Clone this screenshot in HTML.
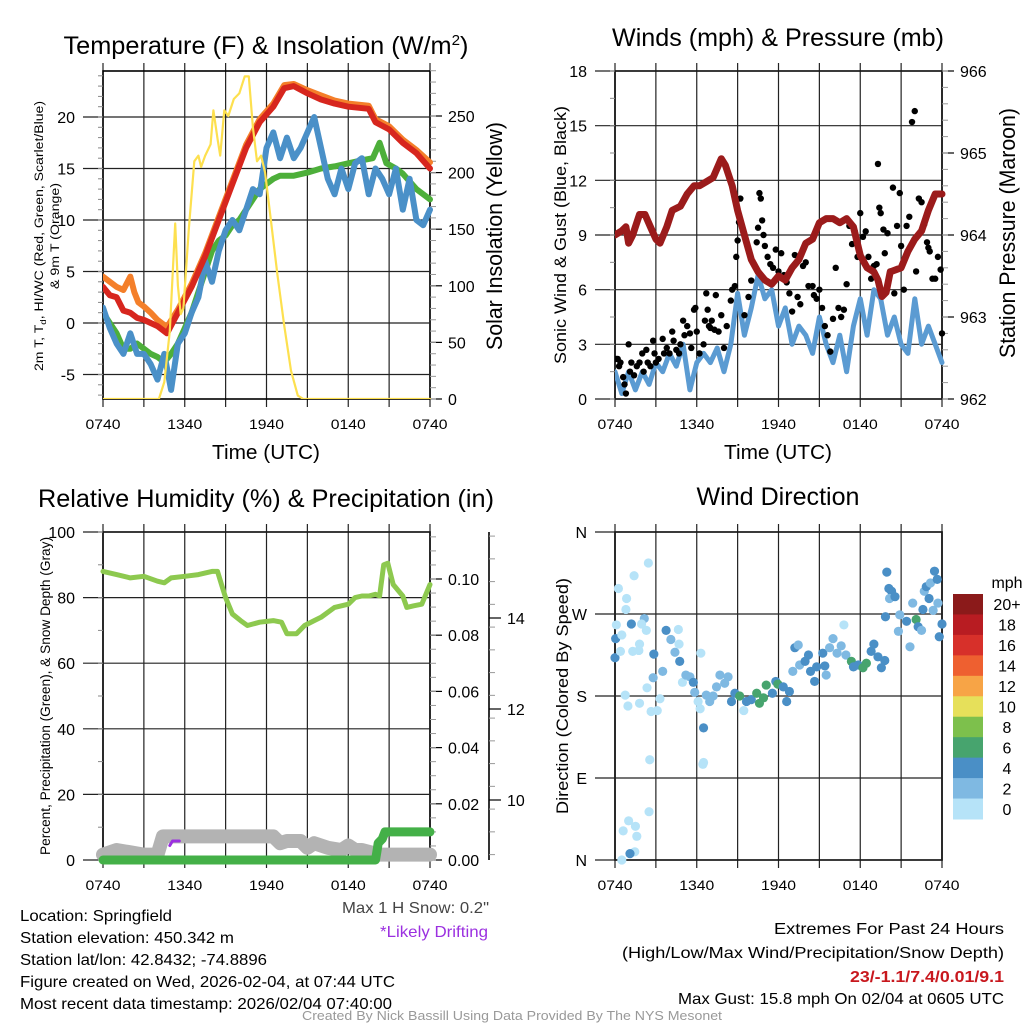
<!DOCTYPE html>
<html><head><meta charset="utf-8"><style>
html,body{margin:0;padding:0;background:#fff;}
svg{display:block;font-family:"Liberation Sans",sans-serif;}
</style></head><body>
<svg id="c" width="1024" height="1024" viewBox="0 0 1024 1024" xmlns="http://www.w3.org/2000/svg"></svg>
<script>
// ---------- DATA ----------
var timeTicks = ["0740","1340","1940","0140","0740"];
var tempTicks = [-5,0,5,10,15,20];
var solarTicks = [0,50,100,150,200,250];
var windTicks = [0,3,6,9,12,15,18];
var presTicks = [962,963,964,965,966];
var rhTicks = [0,20,40,60,80,100];
var precipTicks = [0.00,0.02,0.04,0.06,0.08,0.10];
var snowTicks = [10,12,14];
var dirLabels = ["N","E","S","W","N"];
var speedBins = ["0","2","4","6","8","10","12","14","16","18","20+"];
var binColors = ["#b6e3f8","#7fb9e2","#4a8fc6","#47a46e","#7dc04c","#e6e05a","#f7a446","#ee6030","#d7302a","#b81c22","#8b1a1a"];

var temp2m = [[0,3.5],[0.5,2.7],[1,2.5],[1.5,1.2],[2,1],[2.5,0.5],[3,0.3],[3.5,0],[4,-0.3],[4.7,-1],[5.5,1],[6.5,3.5],[7.5,6.5],[8.5,10],[9.5,13.5],[10.5,17],[11.5,19.5],[12.5,21],[13.3,22.8],[14,23],[15,22.3],[16,21.7],[17,21.3],[18,21],[19.5,20.8],[20,19.5],[21,18.8],[22,17.5],[23,16.5],[24,15]];
var temp9m = [[0,4.5],[0.5,4],[1,3.5],[1.5,3.2],[2,4.5],[2.3,3],[2.6,2],[3,1.6],[3.5,1],[4,0.3],[4.7,-0.4],[5.5,1.3],[6.5,3.8],[7.5,6.8],[8.5,10.3],[9.5,13.8],[10.5,17.3],[11.5,19.8],[12.5,21.3],[13.3,23.1],[14,23.2],[15,22.6],[16,22.1],[17,21.6],[18,21.3],[19.5,21.1],[20,19.8],[21,19.1],[22,17.8],[23,16.8],[24,15.6]];
var dewpt = [[0,1],[0.5,0],[1,-1],[1.5,-2.5],[2,-2.5],[2.5,-2],[3,-2.5],[3.5,-3],[4,-3.3],[4.5,-3.8],[5,-3],[5.5,-2],[6,-0.5],[6.5,1],[7,3],[7.5,5],[8,7],[8.5,8],[9,8.5],[9.5,9.5],[10,10],[10.5,11],[11,12],[11.5,13],[12,13.5],[12.5,14],[13,14.3],[14,14.3],[15,14.6],[16,15],[17,15.2],[18,15.5],[19,15.8],[19.8,16],[20.3,17.5],[20.8,15.5],[21.5,15],[22,14.5],[23,13],[24,12]];
var windChill = [[0,1.5],[0.5,-0.5],[1,-2],[1.5,-3],[2,-1],[2.5,-3],[3,-3],[3.5,-4],[4,-5.5],[4.5,-3],[5,-6.5],[5.5,-2],[6,-1],[6.5,1],[7,2.5],[7.5,6],[8,4],[8.5,7],[9,9],[9.5,10],[10,9],[10.5,11],[11,13],[11.5,12.5],[12,17],[12.5,18.5],[13,16],[13.5,18],[14,16],[14.5,17],[15,18.5],[15.5,20],[16,17],[16.5,14],[17,12.5],[17.5,15],[18,13],[18.5,15.5],[19,16],[19.5,12.5],[20,15],[20.5,14],[21,12.5],[21.5,15],[22,11],[22.5,14],[23,10],[23.5,9.5],[24,11]];
var solar = [[0,0],[4.1,0],[4.5,15],[4.9,60],[5.3,155],[5.5,100],[5.7,75],[5.9,80],[6.3,150],[6.7,210],[7.0,215],[7.2,205],[7.5,215],[7.9,225],[8.1,255],[8.4,230],[8.6,215],[8.9,255],[9.2,250],[9.6,265],[10.0,270],[10.4,285],[10.7,285],[11.0,240],[11.3,210],[11.6,215],[11.9,200],[12.3,160],[12.8,110],[13.3,65],[13.8,25],[14.3,3],[14.7,0],[24,0]];

var sonicWind = [[0,1.5],[0.5,0.3],[1,1.5],[1.5,0.5],[2,1.5],[2.5,0.8],[3,2],[3.5,1.5],[4,2.5],[4.5,1.8],[5,3],[5.5,0.5],[6,2],[6.5,2.5],[7,2],[7.5,2.8],[8,1.5],[8.5,3],[9,5.8],[9.5,3.5],[10,5],[10.5,6.8],[11,5.5],[11.5,6],[12,4],[12.5,5],[13,3],[13.5,4],[14,3.5],[14.5,2.5],[15,4.5],[15.5,3],[16,2],[16.5,3.5],[17,1.5],[17.5,4],[18,5.5],[18.5,3.5],[19,6],[19.5,5.5],[20,3.5],[20.5,4.5],[21,3],[21.5,2.5],[22,5.5],[22.5,3],[23,4],[23.5,3],[24,2]];
var gusts = [[0.1,2.2],[0.2,2.2],[0.3,1.8],[0.4,2],[0.6,1.2],[0.7,0.8],[0.8,0.3],[1,3],[1.1,1.5],[1.2,2],[1.4,1.3],[1.6,1.8],[1.8,2],[2,2.5],[2.1,1.5],[2.3,2.7],[2.4,2],[2.6,1.8],[2.8,3.2],[2.9,2.5],[3,2],[3.2,2.2],[3.5,3.3],[3.6,2.5],[3.8,2.8],[4,2.5],[4.2,3.7],[4.3,3.2],[4.5,2.7],[4.7,2.5],[4.8,3],[5,4.3],[5.1,3.5],[5.3,4],[5.5,3.6],[5.6,2.8],[5.8,4.9],[5.9,5],[6,3.7],[6.2,2.5],[6.5,3],[6.6,4.3],[6.7,5.8],[6.8,4.9],[6.9,4],[7,3.9],[7.1,4.3],[7.3,3.8],[7.4,5.7],[7.6,3.7],[7.8,4.6],[8,2.8],[8.2,4],[8.5,5.4],[8.6,6],[8.8,6.2],[8.9,7.8],[9,8.7],[9.1,9.7],[9.2,11],[9.5,4.6],[9.8,5.6],[10,6.5],[10.2,7.4],[10.4,8.6],[10.5,9.4],[10.6,11.3],[10.7,11],[10.8,9.8],[10.9,9],[11,8.4],[11.2,7.8],[11.4,7.4],[11.6,7.2],[11.8,8.2],[12,7],[12.2,8],[12.4,6.8],[12.6,6.4],[12.8,5.8],[13,4.8],[13.2,7.9],[13.4,5.6],[13.6,5.2],[13.8,7.3],[14,7.5],[14.2,6.2],[14.5,6.2],[14.6,5.7],[14.8,5.5],[15,6],[15.2,5],[15.4,4],[15.6,3.5],[15.8,2.6],[16,4.4],[16.2,7.2],[16.4,5],[16.6,4.5],[16.8,4.9],[17,6.3],[17.2,9.5],[17.4,8.5],[17.6,9.2],[17.8,7.8],[18,10.2],[18.2,8.9],[18.4,9.2],[18.6,7.8],[18.8,6.6],[19,7.3],[19.2,7.4],[19.3,12.9],[19.4,10.5],[19.5,10.2],[19.7,9.3],[19.8,8.0],[20,9.1],[20.2,7],[20.4,11.6],[20.5,5.8],[20.7,9.5],[20.9,11.3],[21,8.4],[21.2,6],[21.4,9.5],[21.6,10],[21.8,15.2],[22,15.8],[22.1,7],[22.3,11],[22.5,10.8],[22.7,9.6],[22.9,8.6],[23,8.3],[23.1,8.1],[23.3,6.6],[23.5,6.6],[23.7,7.8],[23.9,7.1],[24,3.6]];
var pressure = [[0,964.0],[0.5,964.05],[0.8,964.1],[1,963.9],[1.3,964.0],[1.8,964.25],[2.2,964.25],[2.6,964.1],[3,963.95],[3.3,963.9],[3.8,964.1],[4.2,964.3],[4.8,964.35],[5.3,964.5],[5.8,964.6],[6.2,964.6],[6.7,964.65],[7.2,964.7],[7.8,964.93],[8.1,964.85],[8.6,964.6],[9,964.3],[9.5,964.0],[10,963.7],[10.5,963.55],[11,963.45],[11.5,963.4],[12,963.5],[12.5,963.45],[13,963.6],[13.5,963.7],[14,963.9],[14.5,963.95],[15,964.15],[15.5,964.2],[16,964.2],[16.5,964.15],[17,964.2],[17.5,964.1],[18,963.75],[18.5,963.6],[19,963.55],[19.3,963.45],[19.6,963.25],[19.9,963.3],[20.2,963.55],[21,963.6],[21.5,963.8],[22,963.95],[22.5,964.05],[23,964.3],[23.5,964.5],[24,964.5]];

var relHum = [[0,88],[1,87],[2,86],[3,86.5],[4,85],[4.5,84.5],[5,86],[6,86.5],[7,87],[8,88],[8.4,88],[8.7,84],[9.0,80],[9.5,75],[10.1,73],[10.6,71.5],[11.5,72.5],[12.5,73],[13.1,72.5],[13.5,69],[14.2,69],[14.8,71.5],[15.5,73],[16,74],[17,77],[18,78],[18.5,80],[19,80.5],[19.5,80.5],[20.0,81],[20.3,80.5],[20.6,90],[20.9,90.5],[21.3,84],[22,80.5],[22.3,77],[22.8,77.5],[23.4,78],[24,84]];
var precip = [[0,0],[20.0,0],[20.1,0.003],[20.2,0.006],[20.5,0.0075],[20.7,0.01],[24,0.01]];
var snowDepth = [[0,8.8],[1,8.9],[2,8.85],[3,8.8],[4,8.8],[4.4,9.2],[12.5,9.2],[13,9.05],[13.5,9.1],[14.5,9.1],[15,8.95],[15.5,9.05],[16.5,8.95],[17.5,8.9],[18,9.0],[18.5,8.9],[19,8.9],[20.3,8.8],[24,8.8]];
var drifting = [[4.9,9.0],[5.1,9.1],[5.6,9.1]];

var windDirT = [0,0.05,0.1,0.25,0.5,0.4,0.85,0.8,1.2,1.4,1.3,1.8,1.75,2.15,1.95,2.45,2.3,2.85,2.8,2.35,0.75,0.95,1.8,2.65,3.1,3.3,3.5,3.75,4.1,4.65,4.4,4.7,4.75,4.95,5.2,5.5,5.75,5.85,6.1,6.25,6.3,6.5,6.45,6.5,2.55,2.5,0.6,1.0,1.5,1.6,1.45,1.1,0.5,6.7,6.95,7.2,7.45,7.7,8.05,8.3,8.55,8.8,9.15,9.45,9.65,10.0,10.4,10.6,10.9,11.1,11.55,11.8,11.95,12.35,12.6,12.8,13.05,13.2,13.45,13.55,13.95,14.2,14.35,14.65,14.8,15.25,15.5,15.4,15.75,16.0,16.3,16.6,16.8,16.95,17.35,17.5,17.85,18.2,18.45,18.8,19.0,19.3,19.55,19.8,19.85,19.95,20.1,20.3,20.15,20.55,20.9,20.8,21.4,21.65,21.85,22.1,22.25,22.5,22.6,22.7,22.85,23.05,23.15,23.35,23.45,23.65,23.7,23.8,24];
var windDirDeg = [222,243,258,298,247,229,287,275,259,312,229,237,230,265,259,326,252,226,200,189,181,169,172,163,164,177,207,252,242,253,228,237,218,195,203,201,195,184,174,166,227,145,105,107,110,53,32,43,37,26,9,7,0,181,174,180,190,203,194,201,174,183,180,164,174,176,183,172,178,192,183,196,193,190,174,185,207,233,236,214,218,225,207,196,212,227,203,213,233,243,227,235,258,225,218,212,214,211,216,229,237,223,211,219,267,316,298,295,287,289,269,251,262,234,282,264,256,252,275,295,300,287,304,274,317,308,282,245,259];
var windDirSpd = [4,4,1,0.5,1,1,0.5,0.5,4,0.5,1,1,1,3,1,0.5,0.5,4,3,0.5,0.5,0.5,0.5,0.5,0.5,0.5,3,4,3,1,3,1,4,1,3,3,4,3,0.5,0.5,0.5,4,0.5,0.5,0.5,0.5,0.5,0.5,0.5,0.5,0.5,4,0.5,3,3,3,3,3,3,3,4,4,6,1,4,4,6,6,6,6,4,4,6,4,4,4,3,4,3,3,4,4,4,4,4,4,3,4,3,3,3,3,0.5,3,6,4,4,6,6,4,4,4,4,4,4,4,4,4,3,4,3,3,4,3,3,6,4,3,4,3,4,4,3,3,4,4,3,4,4];

// ---------- HELPERS ----------
var svg = document.getElementById('c');
var NS = "http://www.w3.org/2000/svg";
function el(tag, attrs, parent){
  var e = document.createElementNS(NS, tag);
  for (var k in attrs) e.setAttribute(k, attrs[k]);
  (parent||svg).appendChild(e);
  return e;
}
function txt(s, x, y, size, anchor, parent, extra){
  var a = {x:x, y:y, 'font-size':size, 'text-anchor':anchor||'middle', fill:'#000'};
  if (extra) for (var k in extra) a[k]=extra[k];
  var t = el('text', a, parent);
  t.textContent = s;
  return t;
}
function lin(d0,d1,r0,r1){ return function(v){ return r0 + (v-d0)/(d1-d0)*(r1-r0); }; }
function pathOf(arr, xs, ys){
  var d = "";
  for (var i=0;i<arr.length;i++) d += (i?"L":"M") + xs(arr[i][0]).toFixed(1) + "," + ys(arr[i][1]).toFixed(1);
  return d;
}
function frame(g, L, T, R, B){
  var xs = lin(0,24,L,R);
  for (var i=0;i<=8;i++){
    var x = xs(i*3);
    var gl = el('line',{x1:x,y1:T-8,x2:x,y2:B+8,stroke:'#222','stroke-width':1.2},g);
    
    
  }
  for (var j=0;j<timeTicks.length;j++){
    var t = txt(timeTicks[j], xs(j*6), B+30, 14, 'middle', g, {textLength:35, lengthAdjust:'spacingAndGlyphs'});
    
    
  }
  el('rect',{x:L,y:T,width:R-L,height:B-T,fill:'none',stroke:'#000','stroke-width':1.6},g);
  return xs;
}
function leftAxis(g, L, R, ys, ticks, minor, labels){
  for (var i=0;i<ticks.length;i++){
    var y = ys(ticks[i]);
    el('line',{x1:L-20,y1:y,x2:R,y2:y,stroke:'#222','stroke-width':1.2},g);
    var t = txt(labels?labels[i]:String(ticks[i]), L-28, y+6, 16, 'end', g);
    
    
  }
  for (var m=0;m<minor.length;m++){
    el('line',{x1:L-5,y1:ys(minor[m]),x2:L,y2:ys(minor[m]),stroke:'#888','stroke-width':1},g);
  }
}
function rightAxis(g, X, ys, ticks, fmt, minor, off){
  for (var i=0;i<ticks.length;i++){
    var y = ys(ticks[i]);
    el('line',{x1:X,y1:y,x2:X+12,y2:y,stroke:'#000','stroke-width':1.2},g);
    var t = txt(fmt(ticks[i]), X+(off||18), y+6, 16, 'start', g);
    
    
  }
  for (var m=0;m<minor.length;m++){
    el('line',{x1:X,y1:ys(minor[m]),x2:X+6,y2:ys(minor[m]),stroke:'#999','stroke-width':1},g);
  }
}
function range(a,b,s){ var r=[]; for (var v=a; v<=b+1e-9; v+=s) r.push(+v.toFixed(4)); return r; }
function line(g, arr, xs, ys, color, w, name){
  var p = el('path',{d:pathOf(arr,xs,ys),fill:'none',stroke:color,'stroke-width':w,'stroke-linejoin':'round','stroke-linecap':'round'},g);
  
  
  return p;
}

// ---------- PANEL 1: TEMPERATURE ----------
(function(){
  var g = el('g',{});
  
  
  var L=103,T=71,R=430,B=399;
  var ys = lin(0,5,323,271.5);
  var y2 = lin(0,50,399,342.4);
  var xs = frame(g,L,T,R,B);
  leftAxis(g,L,R,ys,tempTicks,range(-7,24,1));
  rightAxis(g,R,y2,solarTicks,function(v){return String(v);},range(0,290,10));
  var cp = el('clipPath',{id:'cp1'},svg); el('rect',{x:L,y:T-3,width:R-L+4,height:B-T+3},cp);
  var cg = el('g',{'clip-path':'url(#cp1)'},g);
  line(cg, temp9m, xs, ys, '#f47f2a', 6, 'temp-9m-line');
  line(cg, dewpt, xs, ys, '#4daf3a', 6, 'dewpoint-line');
  line(cg, windChill, xs, ys, '#4a90c8', 6, 'windchill-line');
  line(cg, temp2m, xs, ys, '#d7261e', 6, 'temp-2m-line');
  line(cg, solar, xs, y2, '#fde04f', 2.2, 'solar-insolation-line');
  var t1 = el('text',{x:266,y:54,'font-size':25,'text-anchor':'middle',textLength:405,lengthAdjust:'spacingAndGlyphs'});
  t1.innerHTML = 'Temperature (F) &amp; Insolation (W/m<tspan dy="-9" font-size="15">2</tspan><tspan dy="9">)</tspan>';
  
  
  var xl = txt('Time (UTC)',266,459,20,'middle',g,{textLength:108,lengthAdjust:'spacingAndGlyphs'});
  
  
  var yl = el('text',{transform:'translate(43,236) rotate(-90)','font-size':11.5,'text-anchor':'middle',textLength:270,lengthAdjust:'spacingAndGlyphs'},g);
  yl.innerHTML = '2m T, T<tspan dy="3" font-size="8">d</tspan><tspan dy="-3">, HI/WC (Red, Green, Scarlet/Blue)</tspan>';
  
  
  var yl2 = txt('& 9m T (Orange)',0,0,11.5,'middle',g,{transform:'translate(59,236) rotate(-90)',textLength:106,lengthAdjust:'spacingAndGlyphs'});
  
  
  var yr = txt('Solar Insolation (Yellow)',0,0,22,'middle',g,{transform:'translate(502,236) rotate(-90)',textLength:228,lengthAdjust:'spacingAndGlyphs'});
  
  
})();

// ---------- PANEL 2: WINDS ----------
(function(){
  var g = el('g',{});
  
  
  var L=615,T=71,R=942,B=399;
  var ys = lin(0,18,399,71);
  var y2 = lin(962,966,399,71);
  var xs = frame(g,L,T,R,B);
  leftAxis(g,L,R,ys,windTicks,range(0,18,1.5));
  rightAxis(g,R,y2,presTicks,function(v){return String(v);},range(962,966,0.2));
  var cp = el('clipPath',{id:'cp2'},svg); el('rect',{x:L,y:T-3,width:R-L+4,height:B-T+3},cp);
  var cg = el('g',{'clip-path':'url(#cp2)'},g);
  line(cg, sonicWind, xs, ys, '#5b9bd2', 5, 'sonic-wind-line');
  for (var i=0;i<gusts.length;i++){
    var c = el('circle',{cx:xs(gusts[i][0]),cy:ys(gusts[i][1]),r:3.2,fill:'#000'},cg);
    
    
  }
  line(cg, pressure, xs, y2, '#9b1b1b', 7, 'pressure-line');
  var t1 = txt('Winds (mph) & Pressure (mb)',778,46,25,'middle',svg,{textLength:332,lengthAdjust:'spacingAndGlyphs'});
  
  
  var xl = txt('Time (UTC)',778,459,20,'middle',g,{textLength:108,lengthAdjust:'spacingAndGlyphs'});
  
  
  var yl = txt('Sonic Wind & Gust (Blue, Black)',0,0,17,'middle',g,{transform:'translate(566,235) rotate(-90)',textLength:258,lengthAdjust:'spacingAndGlyphs'});
  
  
  var yr = txt('Station Pressure (Maroon)',0,0,22,'middle',g,{transform:'translate(1015,233) rotate(-90)',textLength:250,lengthAdjust:'spacingAndGlyphs'});
  
  
})();

// ---------- PANEL 3: RH & PRECIP ----------
(function(){
  var g = el('g',{});
  
  
  var L=103,T=532,R=430,B=860;
  var ys = lin(0,100,860,532);
  var yp = lin(0,0.1,860,579);
  var yn = lin(10,12,800,709);
  var xs = frame(g,L,T,R,B);
  leftAxis(g,L,R,ys,rhTicks,range(0,100,10));
  rightAxis(g,R,yp,precipTicks,function(v){return v.toFixed(2);},range(0,0.116,0.005));
  el('line',{x1:489,y1:532,x2:489,y2:860,stroke:'#000','stroke-width':1.6},g);
  for (var i=0;i<snowTicks.length;i++){
    var y = yn(snowTicks[i]);
    el('line',{x1:489,y1:y,x2:501,y2:y,stroke:'#000','stroke-width':1.2},g);
    var t = txt(String(snowTicks[i]),507,y+6,16,'start',g);
    
    
  }
  var sm = range(8.8,15.8,0.5);
  for (var m=0;m<sm.length;m++) el('line',{x1:489,y1:yn(sm[m]),x2:495,y2:yn(sm[m]),stroke:'#999','stroke-width':1},g);
  line(g, snowDepth, xs, yn, '#b3b3b3', 14, 'snow-depth-line');
  line(g, drifting, xs, yn, '#9b30e0', 3, 'drifting-marker');
  line(g, precip, xs, yp, '#44b048', 9, 'precip-line');
  line(g, relHum, xs, ys, '#8dc94f', 5, 'rh-line');
  var t1 = txt('Relative Humidity (%) & Precipitation (in)',266,507,25,'middle',svg,{textLength:456,lengthAdjust:'spacingAndGlyphs'});
  
  
  var yl = txt('Percent, Precipitation (Green), & Snow Depth (Gray)',0,0,13.5,'middle',g,{transform:'translate(50,696) rotate(-90)',textLength:318,lengthAdjust:'spacingAndGlyphs'});
  
  
})();

// ---------- PANEL 4: WIND DIRECTION ----------
(function(){
  var g = el('g',{});
  
  
  var L=615,T=532,R=942,B=860;
  var ys = lin(0,360,860,532);
  var xs = frame(g,L,T,R,B);
  leftAxis(g,L,R,ys,[0,90,180,270,360],[],dirLabels);
  for (var i=0;i<windDirT.length;i++){
    var bi = windDirSpd[i] < 2 ? 0 : Math.min(10, Math.floor(windDirSpd[i]/2));
    var c = el('circle',{cx:xs(windDirT[i]),cy:ys(windDirDeg[i]),r:4.6,fill:binColors[bi]},g);
    
    
  }
  var cbTop = 594, cbH = 225/11;
  for (var k=0;k<11;k++){
    var idx = 10-k;
    var r = el('rect',{x:953,y:cbTop+k*cbH,width:30,height:cbH+0.5,fill:binColors[idx]},g);
    
    
    var t = txt(speedBins[idx],1007,cbTop+k*cbH+cbH/2+6,16,'middle',g);
    
    
  }
  var u = txt('mph',1007,588,16,'middle',g);
  
  
  var t1 = txt('Wind Direction',778,505,25,'middle',svg,{textLength:163,lengthAdjust:'spacingAndGlyphs'});
  
  
  var yl = txt('Direction (Colored By Speed)',0,0,17,'middle',g,{transform:'translate(568,696) rotate(-90)',textLength:236,lengthAdjust:'spacingAndGlyphs'});
  
  
})();

// ---------- FOOTER TEXT ----------
(function(){
  var items = [
    ['Location: Springfield',20,921,152,'start','#000','station-location'],
    ['Station elevation: 450.342 m',20,943,214,'start','#000','station-elevation'],
    ['Station lat/lon: 42.8432; -74.8896',20,965,247,'start','#000','station-latlon'],
    ['Figure created on Wed, 2026-02-04, at 07:44 UTC',20,987,375,'start','#000','figure-created'],
    ['Most recent data timestamp: 2026/02/04 07:40:00',20,1009,372,'start','#000','recent-timestamp'],
    ['Max 1 H Snow: 0.2"',489,913,147,'end','#444','max-snow'],
    ['*Likely Drifting',488,937,108,'end','#9b30e0','drifting-note'],
    ['Extremes For Past 24 Hours',1004,934,230,'end','#000','extremes-title'],
    ['(High/Low/Max Wind/Precipitation/Snow Depth)',1004,958,382,'end','#000','extremes-legend']
  ];
  for (var i=0;i<items.length;i++){
    var it = items[i];
    var t = txt(it[0],it[1],it[2],16,it[4],svg,{textLength:it[3],lengthAdjust:'spacingAndGlyphs',fill:it[5]});
    
    
  }
  var e = txt('23/-1.1/7.4/0.01/9.1',1004,982,16,'end',svg,{textLength:154,lengthAdjust:'spacingAndGlyphs',fill:'#c8181e','font-weight':'bold'});
  
  
  var mg = txt('Max Gust: 15.8 mph On 02/04 at 0605 UTC',1004,1004,16,'end',svg,{textLength:326,lengthAdjust:'spacingAndGlyphs'});
  
  
  var cr = txt('Created By Nick Bassill Using Data Provided By The NYS Mesonet',512,1020,12.5,'middle',svg,{textLength:420,lengthAdjust:'spacingAndGlyphs',fill:'#999'});
  
  
})();
</script>
</body></html>
